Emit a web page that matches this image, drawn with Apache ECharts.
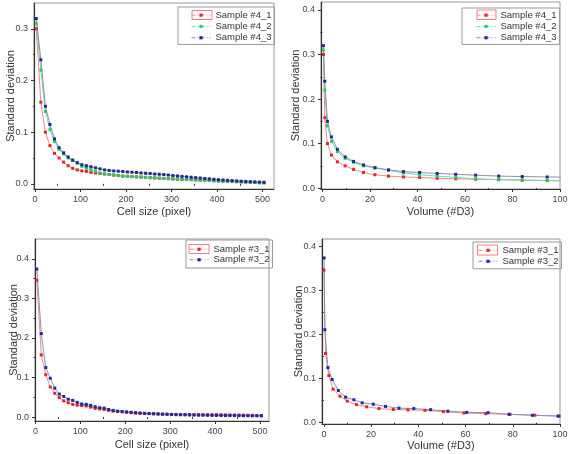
<!DOCTYPE html>
<html><head><meta charset="utf-8">
<script src="https://cdn.jsdelivr.net/npm/echarts@6/dist/echarts.min.js"></script>
<style>html,body{margin:0;padding:0;background:#fff}#c{width:568px;height:454px}</style>
</head><body><div id="c"></div>
<script>
// ---- data ----
const cellSize = [3,13,23,33,43,53,63,73,83,93,103,113,123,133,143,153,163,173,183,193,203,213,223,233,243,253,263,273,283,293,303,313,323,333,343,353,363,373,383,393,403,413,423,433,443,453,463,473,483,493,503];
const s4_1 = [0.30,0.158,0.10,0.074,0.059,0.05,0.042,0.035,0.030,0.027,0.025,0.024,0.022,0.021,0.020,0.019,0.018,0.017,0.016,0.015,0.0145,0.014,0.0135,0.013,0.0125,0.012,0.0115,0.011,0.0105,0.010,0.0095,0.009,0.0087,0.0084,0.008,0.0076,0.0072,0.0068,0.0064,0.006,0.0056,0.0052,0.0049,0.0046,0.0043,0.004,0.0036,0.0032,0.0028,0.0024,0.002];
const s4_2 = [0.31,0.22,0.14,0.105,0.082,0.067,0.058,0.05,0.045,0.04,0.034,0.03,0.027,0.024,0.021,0.019,0.018,0.017,0.016,0.015,0.0145,0.014,0.0135,0.013,0.0125,0.012,0.0115,0.011,0.0105,0.010,0.0095,0.009,0.0088,0.0085,0.008,0.0075,0.007,0.0068,0.0065,0.006,0.0055,0.005,0.0048,0.0045,0.004,0.0035,0.003,0.0028,0.0025,0.002,0.0018];
const s4_3 = [0.32,0.24,0.15,0.115,0.087,0.07,0.06,0.052,0.046,0.041,0.037,0.035,0.033,0.031,0.029,0.027,0.026,0.025,0.0245,0.024,0.023,0.0225,0.022,0.021,0.0205,0.020,0.019,0.0185,0.018,0.017,0.016,0.0152,0.0144,0.0136,0.0128,0.012,0.0112,0.0104,0.0096,0.0088,0.008,0.0074,0.0068,0.0062,0.0056,0.005,0.0046,0.0042,0.0038,0.0034,0.003];
const volume4 = [0.4,1.0,2.1,3.8,6.3,9.6,13.1,17.3,22.1,27.8,34.1,40.9,48.3,56.1,64.5,74.2,84.1,94.6,105.5];

const s3_1 = [0.346,0.157,0.107,0.076,0.06,0.049,0.041,0.036,0.032,0.030,0.029,0.028,0.025,0.022,0.0205,0.019,0.017,0.015,0.014,0.013,0.012,0.011,0.010,0.0095,0.009,0.0085,0.008,0.0075,0.007,0.007,0.0068,0.0066,0.0065,0.0064,0.0063,0.0062,0.0062,0.0061,0.006,0.006,0.006,0.0058,0.0056,0.0054,0.0052,0.005,0.0048,0.0045,0.0042,0.004,0.0038];
const s3_2 = [0.374,0.211,0.125,0.098,0.073,0.058,0.052,0.045,0.042,0.037,0.033,0.032,0.0295,0.026,0.0235,0.0227,0.019,0.0168,0.015,0.014,0.013,0.012,0.011,0.010,0.0095,0.009,0.0085,0.008,0.0075,0.007,0.0065,0.006,0.0058,0.0055,0.0053,0.005,0.0048,0.0046,0.0044,0.0042,0.004,0.0039,0.0038,0.0037,0.0036,0.0035,0.0034,0.0033,0.0032,0.0031,0.003];
const volume3_1 = [0,0.7,2.1,3.9,6.8,9.9,13.8,18.1,23.3,29.4,35.6,42.8,50.6,59.3,68.5,78.8,89.3,99.6,110.5];
const volume3_2 = [0.1,0.4,1.7,3.5,6.1,9.2,12.7,16.2,20.9,26.1,31.8,38.1,45.2,52.5,60.5,69.5,78.4,88.3,99.2,110.5];

const yTicks4 = [0,0.1,0.2,0.3], yMinor4 = [0.05,0.15,0.25];
const yTicks = [0,0.1,0.2,0.3,0.4], yMinor = [0.05,0.15,0.25,0.35];
const cellTicks = [0,100,200,300,400,500], cellMinor = [50,150,250,350,450];
const volTicks = [0,20,40,60,80,100], volMinor = [10,30,50,70,90];

const names4 = ['Sample #4_1','Sample #4_2','Sample #4_3'];
const names3 = ['Sample #3_1','Sample #3_2'];
const colors4 = ['#e0262b','#2fc56a','#1c2a8c'];
const lineCols4 = ['#ee8a8a','#6fd8b0','#8c8fa8'];
const colors3 = ['#e0262b','#1c2a9c'];
const lineCols3 = ['#ee8a8a','#8c90b8'];

// ---- layout ----
const FONT = 'Liberation Sans, Arial, sans-serif';
const grids = [
  {left:34, top:3, width:240, height:186},
  {left:321, top:2, width:239, height:187},
  {left:35, top:239, width:234, height:182},
  {left:322, top:239, width:238, height:185}
];
const xr = [[-2,525],[-0.6,100],[-1,520],[-0.8,100]];
const yr = [[-0.01,0.35],[-0.002,0.418],[-0.01,0.45],[-0.003,0.417]];
const xT = [[cellTicks,cellMinor],[volTicks,volMinor],[cellTicks,cellMinor],[volTicks,volMinor]];
const yT = [[yTicks4,yMinor4],[yTicks,yMinor],[yTicks,yMinor],[yTicks,yMinor]];
const xNames = ['Cell size (pixel)','Volume (#D3)','Cell size (pixel)','Volume (#D3)'];
const xGap = [17,17,18,16];
const yGap = [18,20,16,18];

const xAxis = [], yAxis = [];
grids.forEach((g,i)=>{
  xAxis.push({type:'value', gridIndex:i, min:xr[i][0], max:xr[i][1],
    name:xNames[i], nameLocation:'middle', nameGap:xGap[i], nameMoveOverlap:false,
    nameTextStyle:{fontFamily:FONT,fontSize:11,color:'#333'},
    axisLine:{show:true,onZero:false,lineStyle:{color:'#333',width:1.2}},
    axisTick:{show:true,inside:false,length:3,customValues:xT[i][0],lineStyle:{color:'#333'}},
    axisLabel:{customValues:xT[i][0],margin:6,fontFamily:FONT,fontSize:9,color:'#444'},
    splitLine:{show:false}});
  xAxis.push({type:'value', gridIndex:i, min:xr[i][0], max:xr[i][1], position:'bottom',
    axisLine:{show:false}, axisLabel:{show:false}, splitLine:{show:false},
    axisTick:{show:true,length:2,customValues:xT[i][1],lineStyle:{color:'#333'}}});
  yAxis.push({type:'value', gridIndex:i, min:yr[i][0], max:yr[i][1],
    name:'Standard deviation', nameLocation:'middle', nameGap:yGap[i], nameRotate:90, nameMoveOverlap:false,
    nameTextStyle:{fontFamily:FONT,fontSize:11,color:'#333'},
    axisLine:{show:true,onZero:false,lineStyle:{color:'#333',width:1.2}},
    axisTick:{show:true,inside:false,length:3,customValues:yT[i][0],lineStyle:{color:'#333'}},
    axisLabel:{customValues:yT[i][0],margin:6,fontFamily:FONT,fontSize:9,color:'#444',formatter:v=>v.toFixed(1)},
    splitLine:{show:false}});
  yAxis.push({type:'value', gridIndex:i, min:yr[i][0], max:yr[i][1], position:'left',
    axisLine:{show:false}, axisLabel:{show:false}, splitLine:{show:false},
    axisTick:{show:true,length:2,customValues:yT[i][1],lineStyle:{color:'#333'}}});
});

function pairs(xs, ys){ const out=[]; for(let k=0;k<Math.min(xs.length,ys.length);k++) out.push([xs[k],ys[k]]); return out; }
function mk(name, xs, ys, gi, col, lcol){
  return {type:'line', name:name, xAxisIndex:gi*2, yAxisIndex:gi*2, data:pairs(xs,ys),
    symbol:'rect', symbolSize:3, showSymbol:true, color:col,
    itemStyle:{color:col}, lineStyle:{color:lcol,width:1}, animation:false, clip:true};
}
const series = [];
[s4_1,s4_2,s4_3].forEach((s,k)=>{
  series.push(mk(names4[k], cellSize, s, 0, colors4[k], lineCols4[k]));
  series.push(mk(names4[k], volume4, s, 1, colors4[k], lineCols4[k]));
});
series.push(mk(names3[0], cellSize, s3_1, 2, colors3[0], lineCols3[0]));
series.push(mk(names3[1], cellSize, s3_2, 2, colors3[1], lineCols3[1]));
series.push(mk(names3[0], volume3_1, s3_1, 3, colors3[0], lineCols3[0]));
series.push(mk(names3[1], volume3_2, s3_2, 3, colors3[1], lineCols3[1]));

function legend(names, left, top, pad, lh){
  return {data:names, orient:'vertical', left:left, top:top, itemGap:0,
    itemWidth:19, itemHeight:4,
    itemStyle:{borderWidth:0},
    lineStyle:{type:[4,2,1,2], width:1},
    padding:pad, borderColor:'#999', borderWidth:1, selectedMode:false,
    textStyle:{fontFamily:FONT,fontSize:9.5,color:'#333',lineHeight:lh}};
}

const chart = echarts.init(document.getElementById('c'), null, {renderer:'canvas'});
chart.setOption({
  animation:false,
  backgroundColor:'#fff',
  grid: grids.map(g=>Object.assign({show:true,borderColor:'#999',borderWidth:1,outerBoundsMode:'none'},g)),
  xAxis:xAxis, yAxis:yAxis,
  legend:[
    legend(names4,178,7,[2.5,3,1,13],11.3),
    legend(names4,462,8,[1.5,3,1,14],11.3),
    legend(names3,186,240,[4,3,3,3],10.5),
    legend(names3,473,242,[2.8,3,2,5],11)
  ],
  graphic:[
    {type:'rect', shape:{x:192,y:10.5,width:20,height:9}, style:{fill:'none',stroke:'#f08080',lineWidth:1}, z:100},
    {type:'rect', shape:{x:477,y:10,width:19,height:9.5}, style:{fill:'none',stroke:'#f08080',lineWidth:1}, z:100},
    {type:'rect', shape:{x:189,y:244.5,width:20,height:9}, style:{fill:'none',stroke:'#f08080',lineWidth:1}, z:100},
    {type:'rect', shape:{x:477.5,y:245,width:20,height:10}, style:{fill:'none',stroke:'#f08080',lineWidth:1}, z:100}
  ],
  series:series
});
</script></body></html>
